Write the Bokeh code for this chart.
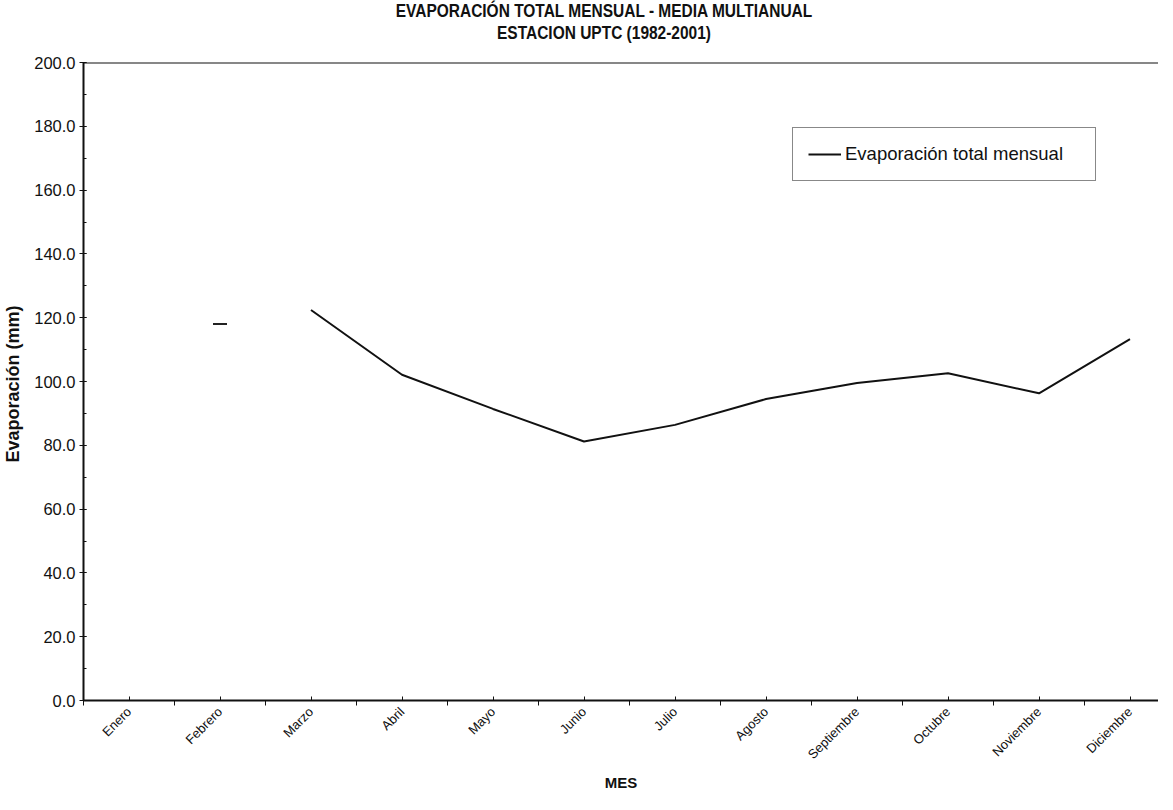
import math
from bokeh.plotting import figure
from bokeh.layouts import column
from bokeh.models import (Range1d, FixedTicker, NumeralTickFormatter, Legend, LegendItem,
                          Span, Div)
from bokeh.embed import file_html
from bokeh.resources import INLINE

months = ["Enero", "Febrero", "Marzo", "Abril", "Mayo", "Junio", "Julio", "Agosto",
          "Septiembre", "Octubre", "Noviembre", "Diciembre"]
# Enero: not visible in the source picture
evap = [None, 118.0, 122.4, 102.1, 91.4, 81.2, 86.4, 94.5, 99.5, 102.6, 96.3, 113.3]
y_ticks = [0, 20, 40, 60, 80, 100, 120, 140, 160, 180, 200]
title_lines = ["EVAPORACIÓN TOTAL MENSUAL - MEDIA MULTIANUAL", "ESTACION UPTC (1982-2001)"]

pos = [i + 0.5 for i in range(len(months))]

FONT = "Liberation Sans"
INK = "#111111"

FW, FH = 1075, 638
p = figure(frame_width=FW, frame_height=FH, output_backend="svg", toolbar_location=None,
           x_range=Range1d(0, FW / 91), y_range=Range1d(0, 200),
           min_border_left=82, min_border_top=12, min_border_bottom=94, min_border_right=0)
p.outline_line_color = None
p.xgrid.visible = False
p.ygrid.visible = False
p.background_fill_color = "white"
p.border_fill_color = "white"

# visible line segment (from Marzo onward) and the Febrero mark
r = p.line(pos[2:], evap[2:], line_color=INK, line_width=2)
p.scatter([pos[1]], [evap[1]], marker="dash", size=14, line_color="#222222", line_width=2)

p.add_layout(Span(location=200, dimension="width", line_color=INK, line_width=2))

# x axis
xa = p.xaxis[0]
xa.ticker = FixedTicker(ticks=pos, minor_ticks=list(range(13)))
xa.major_label_overrides = {pp: m for pp, m in zip(pos, months)}
xa.major_label_orientation = math.pi / 4
xa.major_label_text_font = FONT
xa.major_label_text_font_size = "13px"
xa.major_label_text_color = INK
xa.major_label_standoff = 4
xa.major_tick_in = 4
xa.major_tick_out = 0
xa.minor_tick_in = 0
xa.minor_tick_out = 5
xa.axis_line_width = 2
xa.axis_line_color = INK
xa.major_tick_line_color = INK
xa.minor_tick_line_color = INK
xa.axis_label = "MES"
xa.axis_label_text_font = FONT
xa.axis_label_text_font_style = "bold"
xa.axis_label_text_font_size = "15px"
xa.axis_label_text_color = INK
xa.axis_label_standoff = 4

# y axis
ya = p.yaxis[0]
ya.ticker = FixedTicker(ticks=y_ticks, minor_ticks=list(range(0, 201, 10)))
ya.formatter = NumeralTickFormatter(format="0.0")
ya.major_label_text_font = FONT
ya.major_label_text_font_size = "16.5px"
ya.major_label_text_color = INK
ya.major_label_standoff = 4
ya.major_tick_in = 3
ya.major_tick_out = 4
ya.minor_tick_in = 3
ya.minor_tick_out = 0
ya.axis_line_width = 2
ya.axis_line_color = INK
ya.major_tick_line_color = INK
ya.minor_tick_line_color = INK
ya.axis_label = "Evaporación  (mm)"
ya.axis_label_text_font = FONT
ya.axis_label_text_font_style = "bold"
ya.axis_label_text_font_size = "18px"
ya.axis_label_text_color = INK
ya.axis_label_standoff = 8

legend = Legend(items=[LegendItem(label="Evaporación total mensual", renderers=[r])],
                location=(709, 519), orientation="vertical")
legend.label_text_font = FONT
legend.label_text_font_size = "18.5px"
legend.label_text_color = INK
legend.glyph_width = 33
legend.glyph_height = 18
legend.label_height = 18
legend.label_width = 235
legend.label_standoff = 4
legend.padding = 15
legend.margin = 0
legend.border_line_color = INK
legend.border_line_width = 1
legend.background_fill_alpha = 1
p.add_layout(legend, "center")

# two-line title above the figure
title_html = (
    '<div style="width:1106px;margin-left:51px;text-align:center;'
    'font-family:\'Liberation Sans\',Arial,sans-serif;font-weight:bold;font-size:18px;'
    'line-height:22px;color:#111111;transform:scaleX(0.86);transform-origin:50% 50%;'
    'white-space:nowrap;">'
    + "<br>".join(title_lines) + "</div>"
)
title_div = Div(text=title_html, width=1157, height=50, margin=(0, 0, 0, 0))

layout = column(title_div, p, spacing=0)

open("out.html", "w").write(file_html(layout, INLINE))
